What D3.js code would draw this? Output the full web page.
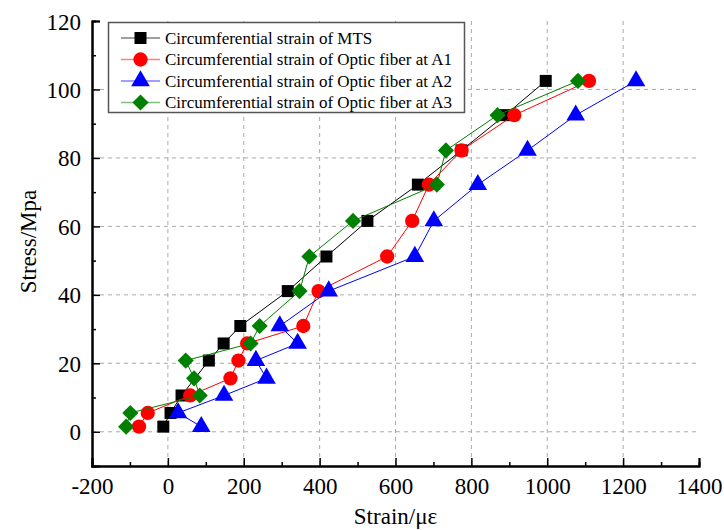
<!DOCTYPE html>
<html>
<head>
<meta charset="utf-8">
<script src="https://cdn.jsdelivr.net/npm/d3@7"></script>
<style>
  html, body { margin: 0; padding: 0; background: #fff; }
  svg { display: block; }
  text { font-family: "Liberation Serif", "Times New Roman", serif; }
</style>
</head>
<body>
<svg id="chart" width="724" height="530"></svg>
<script>
// Stress levels (MPa) shared by the optic fibre series
const stressLevels = [1.5, 5.5, 10.6, 15.6, 20.8, 25.8, 30.9, 41.1, 51.2, 61.6, 72.2, 82.2, 92.5, 102.5];
// MTS has no reading at the 15.6 MPa step
const stressMTS = [1.5, 5.5, 10.6, 20.8, 25.8, 30.9, 41.1, 51.2, 61.6, 72.2, 82.2, 92.5, 102.5];

// Circumferential strain (με)
const strainMTS = [-12, 7, 36, 108, 147, 191, 316, 418, 526, 659, 774, 889, 996];
const strainA1  = [-76, -53, 59, 165, 186, 209, 357, 397, 578, 644, 688, 774, 913, 1110];
const strainA2  = [88, 27, 148, 260, 232, 342, 295, 424, 651, 701, 817, 948, 1075, 1234];
const strainA3  = [-110, -99, 84, 69, 47, 218, 242, 347, 373, 488, 709, 733, 869, 1081];

const seriesNames = [
  "Circumferential strain of MTS",
  "Circumferential strain of Optic fiber at A1",
  "Circumferential strain of Optic fiber at A2",
  "Circumferential strain of Optic fiber at A3"
];
const seriesColors = ["#000000", "#ff0000", "#0000ff", "#008000"];
const seriesSymbols = [d3.symbolSquare, d3.symbolCircle, d3.symbolTriangle, d3.symbolSquare];
const seriesSizes = [144, 160, 150, 130];
const seriesRotation = [0, 0, 0, 45];

const xTicks = [-200, 0, 200, 400, 600, 800, 1000, 1200, 1400];
const yTicks = [0, 20, 40, 60, 80, 100, 120];

const series = [
  { x: strainMTS, y: stressMTS },
  { x: strainA1, y: stressLevels },
  { x: strainA2, y: stressLevels },
  { x: strainA3, y: stressLevels }
].map((s, i) => ({
  name: seriesNames[i], color: seriesColors[i], symbol: seriesSymbols[i],
  size: seriesSizes[i], rot: seriesRotation[i],
  points: s.x.map((v, j) => ({ x: v, y: s.y[j] }))
}));

const svg = d3.select("#chart");
const plotLeft = 92, plotRight = 699, plotTop = 21, plotBottom = 466;

const x = d3.scaleLinear().domain([-200, 1400]).range([plotLeft, plotRight]);
const y = d3.scaleLinear().domain([-10, 120]).range([plotBottom, plotTop]);

// Plain hyphen for negative labels
const fmt = d => String(d);

// Dashed grid at major ticks
const grid = svg.append("g");
grid.selectAll("line.v").data(xTicks.slice(1, -1)).join("line")
  .attr("x1", d => x(d)).attr("x2", d => x(d))
  .attr("y1", plotTop).attr("y2", plotBottom)
  .attr("stroke", "#aaaaaa").attr("stroke-width", 1).attr("stroke-dasharray", "4,4");
grid.selectAll("line.h").data(yTicks.slice(0, -1)).join("line")
  .attr("x1", plotLeft).attr("x2", plotRight)
  .attr("y1", d => y(d)).attr("y2", d => y(d))
  .attr("stroke", "#aaaaaa").attr("stroke-width", 1).attr("stroke-dasharray", "4,4");

// Axes with inward ticks
const xAxis = svg.append("g").attr("transform", `translate(0,${plotBottom})`)
  .call(d3.axisBottom(x).tickValues(xTicks).tickSize(-8).tickPadding(12).tickFormat(fmt));
const xMinor = svg.append("g").attr("transform", `translate(0,${plotBottom})`)
  .call(d3.axisBottom(x).tickValues(d3.range(-100, 1400, 200)).tickSize(-4).tickFormat(""));
const yAxis = svg.append("g").attr("transform", `translate(${plotLeft},0)`)
  .call(d3.axisLeft(y).tickValues(yTicks).tickSize(-8).tickPadding(11).tickFormat(fmt));
const yMinor = svg.append("g").attr("transform", `translate(${plotLeft},0)`)
  .call(d3.axisLeft(y).tickValues(d3.range(-10, 120, 20)).tickSize(-4).tickFormat(""));

[xAxis, xMinor, yAxis, yMinor].forEach(g => {
  g.select(".domain").attr("stroke", "#000").attr("stroke-width", 2);
  g.selectAll(".tick line").attr("stroke", "#000").attr("stroke-width", 1.5);
  g.selectAll(".tick text").attr("fill", "#000")
    .style("font-family", "'Liberation Serif', 'Times New Roman', serif").style("font-size", "23px");
});
xAxis.selectAll(".tick text").attr("dy", "0.71em");
yAxis.selectAll(".tick text").attr("dy", "0.35em");

// Axis titles
svg.append("text").attr("x", (plotLeft + plotRight) / 2).attr("y", 524)
  .attr("text-anchor", "middle").style("font-size", "23px").text("Strain/με");
svg.append("text").attr("transform", `translate(36,${(plotTop + plotBottom) / 2 - 2}) rotate(-90)`)
  .attr("text-anchor", "middle").style("font-size", "23px").text("Stress/Mpa");

// Series lines and markers
const line = d3.line().x(d => x(d.x)).y(d => y(d.y));
series.forEach(s => {
  const g = svg.append("g");
  g.append("path").datum(s.points).attr("d", line)
    .attr("fill", "none").attr("stroke", s.color).attr("stroke-width", 1);
  g.selectAll("path.m").data(s.points).join("path")
    .attr("transform", d => `translate(${x(d.x)},${y(d.y)}) rotate(${s.rot})`)
    .attr("d", d3.symbol().type(s.symbol).size(s.size))
    .attr("fill", s.color);
});

// Legend
const legend = svg.append("g");
legend.append("rect").attr("x", 108.5).attr("y", 22.5).attr("width", 356).attr("height", 90)
  .attr("fill", "#fff").attr("stroke", "#555").attr("stroke-width", 1.5);
series.forEach((s, i) => {
  const cy = 38 + i * 21.5;
  legend.append("line").attr("x1", 121).attr("x2", 160).attr("y1", cy).attr("y2", cy)
    .attr("stroke", s.color).attr("stroke-opacity", 0.5).attr("stroke-width", 1.5);
  legend.append("path").attr("transform", `translate(140.5,${cy}) rotate(${s.rot})`)
    .attr("d", d3.symbol().type(s.symbol).size(s.size)).attr("fill", s.color);
  legend.append("text").attr("x", 165).attr("y", cy).attr("dy", "0.35em")
    .style("font-size", "17px").attr("fill", "#000").text(s.name);
});
</script>
</body>
</html>
